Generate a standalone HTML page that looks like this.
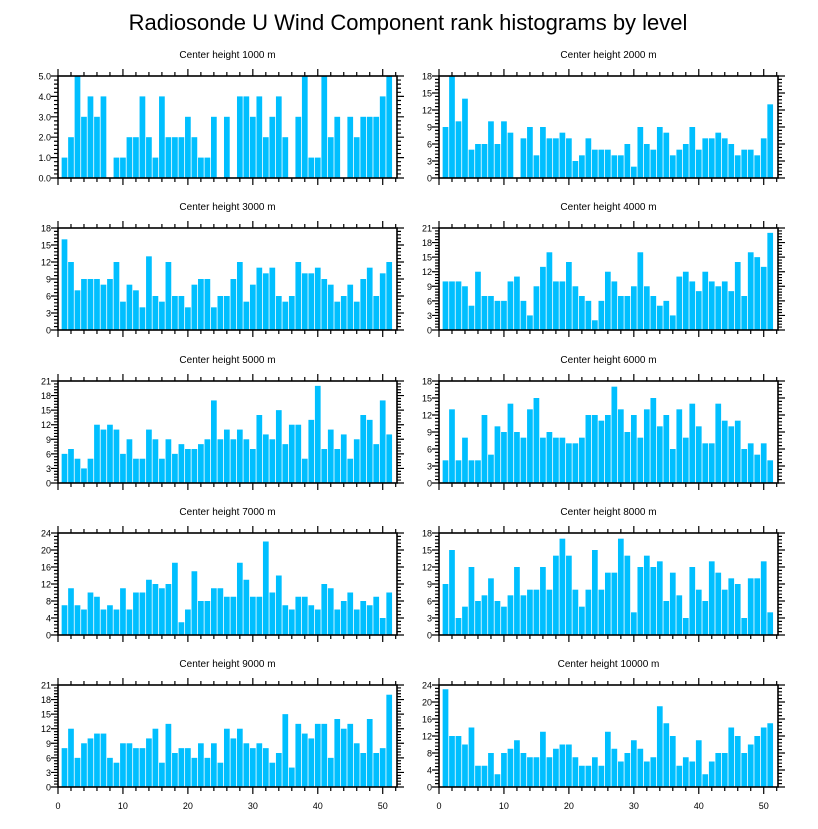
<!DOCTYPE html>
<html>
<head>
<meta charset="utf-8">
<style>
  html,body{margin:0;padding:0;background:#fff;}
  body{width:818px;height:824px;overflow:hidden;font-family:"Liberation Sans",Arial,sans-serif;}
  svg text{font-family:"Liberation Sans",Arial,sans-serif;}
</style>
</head>
<body>
<svg id="chart" width="818" height="824" viewBox="0 0 818 824" xmlns="http://www.w3.org/2000/svg">
  <text x="408" y="30" text-anchor="middle" font-size="22" fill="#000">Radiosonde U Wind Component rank histograms by level</text>
</svg>
<script>
const levels = ["1000","2000","3000","4000","5000","6000","7000","8000","9000","10000"];
const yMaxes = [5, 18, 18, 21, 21, 18, 24, 18, 21, 24];
const yMajorSteps = [1, 3, 3, 3, 3, 3, 4, 3, 3, 4];
const xTickLabels = [0, 10, 20, 30, 40, 50];
const counts1000 = [1,2,5,3,4,3,4,0,1,1,2,2,4,2,1,4,2,2,2,3,2,1,1,3,0,3,0,4,4,3,4,2,3,4,2,0,3,5,1,1,5,2,3,0,3,2,3,3,3,4,5];
const counts2000 = [9,18,10,14,5,6,6,10,6,10,8,0,7,9,4,9,7,7,8,7,3,4,7,5,5,5,4,4,6,2,9,6,5,9,8,4,5,6,9,5,7,7,8,7,6,4,5,5,4,7,13];
const counts3000 = [16,12,7,9,9,9,8,9,12,5,8,7,4,13,6,5,12,6,6,4,8,9,9,4,6,6,9,12,5,8,11,10,11,6,5,6,12,10,10,11,9,8,5,6,8,5,9,11,6,10,12];
const counts4000 = [10,10,10,9,5,12,7,7,6,6,10,11,6,3,9,13,16,10,10,14,9,7,6,2,6,12,10,7,7,9,16,9,7,5,6,3,11,12,10,8,12,10,9,10,8,14,7,16,15,13,20];
const counts5000 = [6,7,5,3,5,12,11,12,11,6,9,5,5,11,9,5,9,6,8,7,7,8,9,17,9,11,9,11,9,7,14,10,9,15,8,12,12,5,13,20,7,11,7,10,5,9,14,13,8,17,10];
const counts6000 = [4,13,4,8,4,4,12,5,10,9,14,9,8,13,15,8,9,8,8,7,7,8,12,12,11,12,17,13,9,12,8,13,15,10,12,6,13,8,14,10,7,7,14,11,10,11,6,7,5,7,4];
const counts7000 = [7,11,7,6,10,9,6,7,6,11,6,10,10,13,12,11,12,17,3,6,15,8,8,11,11,9,9,17,13,9,9,22,10,14,7,6,9,9,7,6,12,11,6,8,10,6,8,7,9,4,10];
const counts8000 = [9,15,3,5,12,6,7,10,6,5,7,12,7,8,8,12,8,14,17,14,8,5,8,15,8,11,11,17,14,4,12,14,12,13,6,11,7,3,12,8,6,13,11,8,10,9,3,10,10,13,4];
const counts9000 = [8,12,6,9,10,11,11,6,5,9,9,8,8,10,12,5,13,7,8,8,6,9,6,9,5,12,10,12,9,8,9,8,5,7,15,4,13,11,10,13,13,6,14,12,13,9,7,14,7,8,19];
const counts10000 = [23,12,12,10,14,5,5,8,3,8,9,11,8,7,7,13,7,9,10,10,7,5,5,7,5,13,9,6,8,11,9,6,7,19,15,12,5,7,6,11,3,6,8,8,14,12,8,10,12,14,15];
const allCounts = [counts1000,counts2000,counts3000,counts4000,counts5000,counts6000,counts7000,counts8000,counts9000,counts10000];

const NS = "http://www.w3.org/2000/svg";
const svg = document.getElementById("chart");
const XMAX = 52.2, PW = 339, PH = 102;
const lefts = [58, 439];
const tops = [76, 228, 381, 533, 685];

function mk(tag, attrs, parent){
  const e = document.createElementNS(NS, tag);
  for (const k in attrs) e.setAttribute(k, attrs[k]);
  parent.appendChild(e);
  return e;
}

allCounts.forEach((counts, p) => {
  const col = p % 2, row = Math.floor(p / 2);
  const L = lefts[col], T = tops[row], B = T + PH;
  const ymax = yMaxes[p], step = yMajorSteps[p];
  const xs = v => L + v / XMAX * PW;
  const ys = v => B - v / ymax * PH;
  const g = mk("g", {}, svg);
  
  

  const title = mk("text", {x: L + PW/2, y: T - 18, "text-anchor": "middle", "font-size": 10}, g);
  title.textContent = "Center height " + levels[p] + " m";
  
  

  counts.forEach((c, i) => {
    const r = i + 1;
    if (c <= 0) return;
    const bar = mk("rect", {x: xs(r - 0.44), y: ys(c), width: xs(r + 0.44) - xs(r - 0.44), height: B - ys(c), fill: "#00bfff"}, g);
    
    
  });

  let d = "";
  for (let v = 0; v <= XMAX; v += 2) {
    const x = xs(v), len = (v % 10 === 0) ? 7 : 4;
    d += `M${x} ${B}V${B+len}M${x} ${T}V${T-len}`;
  }
  const minorStep = step / 5;
  for (let k = 0; k * minorStep <= ymax + 1e-9; k++) {
    const v = k * minorStep, y = ys(v), len = (k % 5 === 0) ? 7 : 4;
    d += `M${L} ${y}H${L-len}M${L+PW} ${y}H${L+PW+len}`;
  }
  const ticks = mk("path", {d: d, stroke: "#000", "stroke-width": 1.2, fill: "none"}, g);
  
  

  const frame = mk("rect", {x: L, y: T, width: PW, height: PH, fill: "none", stroke: "#000", "stroke-width": 1.6}, g);
  
  

  for (let v = 0; v <= ymax + 1e-9; v += step) {
    const t = mk("text", {x: L - 7, y: ys(v) + 3.5, "text-anchor": "end", "font-size": 9}, g);
    t.textContent = ymax === 5 ? v.toFixed(1) : String(v);
    
    
  }
  if (row === 4) {
    xTickLabels.forEach(v => {
      const t = mk("text", {x: xs(v), y: B + 22, "text-anchor": "middle", "font-size": 9}, g);
      t.textContent = String(v);
      
      
    });
  }
});
</script>
</body>
</html>
